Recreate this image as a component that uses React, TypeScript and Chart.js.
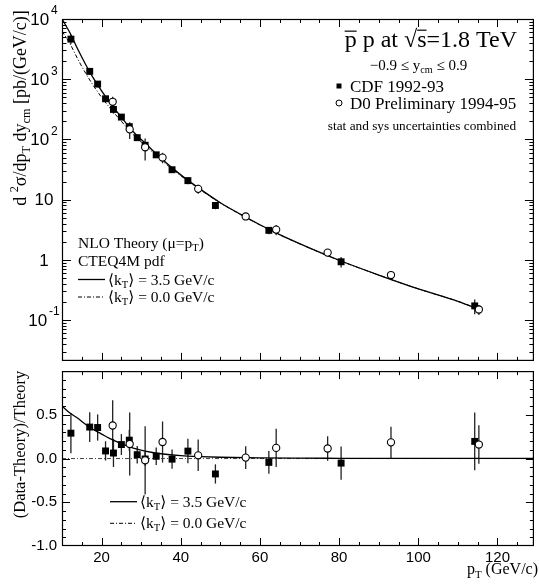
import React, { useEffect, useRef } from 'react';
import { Chart, registerables } from 'chart.js';

Chart.register(...registerables);

// ---------------- data ----------------
const cdfPt = [12.25, 17, 19, 21, 23, 25, 27, 29, 31, 33.8, 37.8, 41.8, 48.75, 62.25, 80.5, 114.25];
const cdfXsec = [4630, 1350, 830, 473, 315, 235, 163, 107, 80, 55.5, 31.4, 20.7, 8.0, 3.09, 0.93, 0.172];
const cdfRatio = [0.29, 0.36, 0.355, 0.087, 0.063, 0.16, 0.21, 0.044, -0.005, 0.026, -0.007, 0.085, -0.176, -0.044, -0.052, 0.196];
const cdfRatioErr = [0.23, 0.17, 0.15, 0.11, 0.16, 0.12, 0.12, 0.1, 0.08, 0.1, 0.11, 0.14, 0.11, 0.13, 0.19, 0.33];

const d0Pt = [22.8, 27.1, 31.0, 35.4, 44.4, 56.4, 64.1, 77.1, 93.1, 115.3];
const d0Xsec = [422, 147, 74, 50, 15.1, 5.26, 3.18, 1.32, 0.56, 0.15];
const d0Ratio = [0.378, 0.167, -0.02, 0.189, 0.037, 0.011, 0.122, 0.115, 0.185, 0.16];
const d0RatioErr = [0.29, 0.36, 0.39, 0.235, 0.18, 0.13, 0.22, 0.14, 0.18, 0.22];

const theoryPt = [10, 12, 14, 16, 18, 20, 22, 25, 28, 31, 35, 40, 45, 50, 55, 60, 65, 70, 80, 90, 100, 110, 116];
const theoryKt35 = [10000, 5900, 3140, 1740, 1020, 640, 418, 234, 134, 87, 48.5, 25.8, 14.8, 8.9, 5.76, 3.83, 2.62, 1.86, 0.985, 0.56, 0.33, 0.205, 0.145];
const theoryKt0 = [6300, 3900, 2150, 1250, 770, 500, 340, 200, 120, 80, 46, 25, 14.5, 8.8, 5.7, 3.8, 2.6, 1.85, 0.98, 0.56, 0.33, 0.205, 0.145];

const ratioPt = [10, 12, 14, 16, 18, 20, 22, 25, 28, 31, 35, 40, 45, 50, 60, 70, 80, 100, 130];
const ratioKt35 = [0.6, 0.52, 0.46, 0.39, 0.33, 0.28, 0.23, 0.17, 0.12, 0.085, 0.055, 0.033, 0.022, 0.015, 0.007, 0.004, 0.003, 0.002, 0.001];
const ratioKt0Pt = [10, 130];
const ratioKt0 = [0, 0];

const upperExps = [4, 3, 2, 1, 0, -1];
const lowerYTicks = [-1, -0.5, 0, 0.5];
const xTickLabels = [20, 40, 60, 80, 100, 120];

// ---------------- helpers ----------------
const SERIF = '"Liberation Serif", "Times New Roman", "DejaVu Serif", serif';
const SANS = '"Liberation Sans", Arial, "DejaVu Sans", sans-serif';

type Seg = { t: string; sub?: boolean; sup?: boolean; over?: number };

function drawRich(
  ctx: CanvasRenderingContext2D,
  segs: Seg[],
  x: number,
  y: number,
  size: number,
  align: 'left' | 'center' | 'right' = 'left',
  family: string = SERIF
) {
  const parts = segs.map((s) => {
    const fs = s.sub || s.sup ? size * 0.68 : size;
    ctx.font = `${fs}px ${family}`;
    return { s, fs, w: ctx.measureText(s.t).width };
  });
  const total = parts.reduce((a, p) => a + p.w, 0);
  let cx = align === 'left' ? x : align === 'right' ? x - total : x - total / 2;
  ctx.textAlign = 'left';
  ctx.textBaseline = 'alphabetic';
  for (const p of parts) {
    ctx.font = `${p.fs}px ${family}`;
    const dy = p.s.sub ? size * 0.22 : p.s.sup ? -size * 0.42 : 0;
    ctx.fillText(p.s.t, cx, y + dy);
    if (p.s.over) {
      ctx.beginPath();
      ctx.lineWidth = Math.max(1, size * 0.05);
      ctx.moveTo(cx, y - size * p.s.over);
      ctx.lineTo(cx + p.w, y - size * p.s.over);
      ctx.stroke();
    }
    cx += p.w;
  }
}

function line(ctx: CanvasRenderingContext2D, x1: number, y1: number, x2: number, y2: number) {
  ctx.beginPath();
  ctx.moveTo(x1, y1);
  ctx.lineTo(x2, y2);
  ctx.stroke();
}

function drawErrors(chart: any) {
  const ctx = chart.ctx as CanvasRenderingContext2D;
  const a = chart.chartArea;
  const ys = chart.scales.y;
  ctx.save();
  ctx.beginPath();
  ctx.rect(a.left, a.top, a.right - a.left, a.bottom - a.top);
  ctx.clip();
  ctx.strokeStyle = '#222';
  ctx.lineWidth = 1.3;
  chart.data.datasets.forEach((ds: any, i: number) => {
    if (!ds.errs) return;
    const meta = chart.getDatasetMeta(i);
    meta.data.forEach((el: any, j: number) => {
      const v = ds.data[j].y;
      const e = ds.errs[j];
      const lo = ys.type === 'logarithmic' ? Math.max(v - e, 1e-6) : v - e;
      line(ctx, el.x, ys.getPixelForValue(v + e), el.x, ys.getPixelForValue(lo));
    });
  });
  ctx.restore();
}

function drawFrameX(ctx: CanvasRenderingContext2D, a: any, xs: any) {
  ctx.lineWidth = 1;
  for (let v = 10; v <= 130; v += 5) {
    const px = Math.round(xs.getPixelForValue(v)) + 0.5;
    if (px <= a.left + 1 || px >= a.right - 1) continue;
    const len = v % 20 === 0 ? 8 : 4;
    line(ctx, px, a.top, px, a.top + len);
    line(ctx, px, a.bottom, px, a.bottom - len);
  }
}

const upperDeco = {
  id: 'upperDeco',
  beforeDatasetsDraw(chart: any) {
    drawErrors(chart);
  },
  afterDraw(chart: any) {
    const ctx = chart.ctx as CanvasRenderingContext2D;
    const a = chart.chartArea;
    const xs = chart.scales.x;
    const ys = chart.scales.y;
    ctx.save();
    ctx.strokeStyle = '#000';
    ctx.fillStyle = '#000';
    ctx.lineWidth = 1.2;
    ctx.strokeRect(a.left + 0.5, a.top + 0.5, a.right - a.left - 1, a.bottom - a.top - 1);
    drawFrameX(ctx, a, xs);
    // log ticks
    for (let e = -2; e <= 3; e++) {
      for (let m = 1; m <= 9; m++) {
        const v = m * Math.pow(10, e);
        if (v < ys.min || v > ys.max) continue;
        const py = Math.round(ys.getPixelForValue(v)) + 0.5;
        const len = m === 1 ? 9 : 4.5;
        line(ctx, a.left, py, a.left + len, py);
        line(ctx, a.right, py, a.right - len, py);
      }
    }
    // y tick labels
    ctx.textBaseline = 'middle';
    for (const e of upperExps) {
      const py = ys.getPixelForValue(Math.pow(10, e));
      const base = e === 0 ? '1' : '10';
      const ex = e === 0 || e === 1 ? '' : String(e);
      ctx.font = `17px ${SANS}`;
      const wb = ctx.measureText(base).width;
      ctx.font = `12px ${SANS}`;
      const we = ex ? ctx.measureText(ex).width + 2 : 0;
      const x0 = 44 - (wb + we) / 2;
      ctx.textAlign = 'left';
      ctx.font = `17px ${SANS}`;
      ctx.fillText(base, x0, py + 1);
      if (ex) {
        ctx.font = `12px ${SANS}`;
        ctx.fillText(ex, x0 + wb + 2, py - 8);
      }
    }
    // y axis title
    ctx.save();
    ctx.translate(26, 108);
    ctx.rotate(-Math.PI / 2);
    drawRich(
      ctx,
      [
        { t: 'd ' },
        { t: '2', sup: true },
        { t: 'σ/dp' },
        { t: 'T', sub: true },
        { t: ' dy' },
        { t: 'cm', sub: true },
        { t: ' [pb/(GeV/c)]' },
      ],
      0,
      0,
      18,
      'center'
    );
    ctx.restore();
    // title
    drawRich(
      ctx,
      [{ t: 'p', over: 0.66 }, { t: ' p at ' }, { t: '√' }, { t: 's', over: 0.7 }, { t: '=1.8 TeV' }],
      517,
      47,
      24,
      'right'
    );
    drawRich(ctx, [{ t: '−0.9 ≤ y' }, { t: 'cm', sub: true }, { t: ' ≤ 0.9' }], 418.5, 70, 15, 'center');
    // legend markers
    ctx.fillRect(336.5, 83.5, 5, 5);
    drawRich(ctx, [{ t: 'CDF 1992-93' }], 350, 91.5, 17);
    ctx.beginPath();
    ctx.lineWidth = 1;
    ctx.arc(339, 103, 3, 0, Math.PI * 2);
    ctx.stroke();
    drawRich(ctx, [{ t: 'D0 Preliminary 1994-95' }], 350, 108.5, 17);
    drawRich(ctx, [{ t: 'stat and sys uncertainties combined' }], 422, 130, 13.3, 'center');
    // left legend
    drawRich(ctx, [{ t: 'NLO Theory (μ=p' }, { t: 'T', sub: true }, { t: ')' }], 78, 247.5, 15.5);
    drawRich(ctx, [{ t: 'CTEQ4M pdf' }], 78, 265.5, 15.5);
    ctx.lineWidth = 1.3;
    line(ctx, 78, 279.5, 105, 279.5);
    drawRich(ctx, [{ t: '⟨k' }, { t: 'T', sub: true }, { t: '⟩ = 3.5 GeV/c' }], 108, 284.5, 15.5);
    ctx.lineWidth = 1;
    ctx.setLineDash([4, 2, 1, 2]);
    line(ctx, 78, 297, 105, 297);
    ctx.setLineDash([]);
    drawRich(ctx, [{ t: '⟨k' }, { t: 'T', sub: true }, { t: '⟩ = 0.0 GeV/c' }], 108, 302, 15.5);
    ctx.restore();
  },
};

const LOWER_TOP = 366;

const lowerDeco = {
  id: 'lowerDeco',
  beforeDatasetsDraw(chart: any) {
    drawErrors(chart);
  },
  afterDraw(chart: any) {
    const ctx = chart.ctx as CanvasRenderingContext2D;
    const a = chart.chartArea;
    const xs = chart.scales.x;
    const ys = chart.scales.y;
    ctx.save();
    ctx.strokeStyle = '#000';
    ctx.fillStyle = '#000';
    ctx.lineWidth = 1.2;
    ctx.strokeRect(a.left + 0.5, a.top + 0.5, a.right - a.left - 1, a.bottom - a.top - 1);
    drawFrameX(ctx, a, xs);
    for (let i = -10; i <= 10; i++) {
      const py = Math.round(ys.getPixelForValue(i / 10)) + 0.5;
      if (py <= a.top + 1 || py >= a.bottom - 1) continue;
      const len = i % 5 === 0 ? 8 : 4;
      line(ctx, a.left, py, a.left + len, py);
      line(ctx, a.right, py, a.right - len, py);
    }
    // tick labels
    ctx.font = `15px ${SANS}`;
    ctx.textBaseline = 'middle';
    ctx.textAlign = 'right';
    for (const v of lowerYTicks) {
      ctx.fillText(v.toFixed(1), 57, ys.getPixelForValue(v));
    }
    ctx.textAlign = 'center';
    for (const v of xTickLabels) {
      ctx.fillText(String(v), xs.getPixelForValue(v), 558 - LOWER_TOP);
    }
    // axis titles
    drawRich(ctx, [{ t: 'p' }, { t: 'T', sub: true }, { t: ' (GeV/c)' }], 538, 574 - LOWER_TOP, 16, 'right');
    ctx.save();
    ctx.translate(25, 444.5 - LOWER_TOP);
    ctx.rotate(-Math.PI / 2);
    drawRich(ctx, [{ t: '(Data-Theory)/Theory' }], 0, 0, 16.5, 'center');
    ctx.restore();
    // legend
    ctx.lineWidth = 1.3;
    line(ctx, 110, 501.7 - LOWER_TOP, 137, 501.7 - LOWER_TOP);
    drawRich(ctx, [{ t: '⟨k' }, { t: 'T', sub: true }, { t: '⟩ = 3.5 GeV/c' }], 140, 507 - LOWER_TOP, 15.5);
    ctx.lineWidth = 1;
    ctx.setLineDash([4, 2, 1, 2]);
    line(ctx, 110, 523.3 - LOWER_TOP, 137, 523.3 - LOWER_TOP);
    ctx.setLineDash([]);
    drawRich(ctx, [{ t: '⟨k' }, { t: 'T', sub: true }, { t: '⟩ = 0.0 GeV/c' }], 140, 528 - LOWER_TOP, 15.5);
    ctx.restore();
  },
};

function xy(xsArr: number[], ysArr: number[]) {
  return xsArr.map((x, i) => ({ x, y: ysArr[i] }));
}

function baseOptions(yType: string, ymin: number, ymax: number, padding: any) {
  return {
    responsive: false,
    animation: false as const,
    events: [] as any[],
    layout: { padding },
    plugins: { legend: { display: false }, tooltip: { enabled: false } },
    scales: {
      x: { type: 'linear', min: 10, max: 129.2, display: false },
      y: { type: yType, min: ymin, max: ymax, display: false },
    },
  } as any;
}

export default function App() {
  const topRef = useRef<HTMLCanvasElement>(null);
  const botRef = useRef<HTMLCanvasElement>(null);

  useEffect(() => {
    document.body.style.margin = '0';
    const top = new Chart(topRef.current as HTMLCanvasElement, {
      type: 'line',
      data: {
        datasets: [
          {
            data: xy(d0Pt, d0Xsec),
            showLine: false,
            pointStyle: 'circle',
            pointRadius: 3.6,
            backgroundColor: '#fff',
            borderColor: '#000',
            borderWidth: 1.1,
            order: 0,
            errs: d0Xsec.map((v, i) => (v * d0RatioErr[i]) / (1 + d0Ratio[i])),
          } as any,
          {
            data: xy(cdfPt, cdfXsec),
            showLine: false,
            pointStyle: 'rect',
            pointRadius: 4.9,
            backgroundColor: '#000',
            borderColor: '#000',
            borderWidth: 0,
            order: 1,
            errs: cdfXsec.map((v, i) => (v * cdfRatioErr[i]) / (1 + cdfRatio[i])),
          } as any,
          {
            data: xy(theoryPt, theoryKt35),
            borderColor: '#000',
            borderWidth: 1.3,
            pointRadius: 0,
            cubicInterpolationMode: 'monotone',
            fill: false,
            order: 2,
          },
          {
            data: xy(theoryPt, theoryKt0),
            borderColor: '#000',
            borderWidth: 1,
            borderDash: [4, 2, 1, 2],
            pointRadius: 0,
            cubicInterpolationMode: 'monotone',
            fill: false,
            order: 3,
          },
        ],
      },
      options: baseOptions('logarithmic', 0.021, 10000, { left: 62, top: 19, right: 1, bottom: 3 }),
      plugins: [upperDeco],
    });

    const bot = new Chart(botRef.current as HTMLCanvasElement, {
      type: 'line',
      data: {
        datasets: [
          {
            data: xy(d0Pt, d0Ratio),
            showLine: false,
            pointStyle: 'circle',
            pointRadius: 3.6,
            backgroundColor: '#fff',
            borderColor: '#000',
            borderWidth: 1.1,
            order: 0,
            errs: d0RatioErr,
          } as any,
          {
            data: xy(cdfPt, cdfRatio),
            showLine: false,
            pointStyle: 'rect',
            pointRadius: 4.9,
            backgroundColor: '#000',
            borderColor: '#000',
            borderWidth: 0,
            order: 1,
            errs: cdfRatioErr,
          } as any,
          {
            data: xy(ratioPt, ratioKt35),
            borderColor: '#000',
            borderWidth: 1.3,
            pointRadius: 0,
            cubicInterpolationMode: 'monotone',
            fill: false,
            order: 2,
          },
          {
            data: xy(ratioKt0Pt, ratioKt0),
            borderColor: '#444',
            borderWidth: 1,
            borderDash: [4, 2, 1, 2],
            pointRadius: 0,
            fill: false,
            order: 3,
          },
        ],
      },
      options: baseOptions('linear', -1, 1, { left: 62, top: 1, right: 1, bottom: 40 }),
      plugins: [lowerDeco],
    });

    return () => {
      top.destroy();
      bot.destroy();
    };
  }, []);

  return (
    <div style={{ position: 'relative', width: 539, height: 586, background: '#fff', overflow: 'hidden' }}>
      <canvas ref={topRef} width={539} height={366} style={{ position: 'absolute', left: 0, top: 0, display: 'block' }} />
      <canvas
        ref={botRef}
        width={539}
        height={220}
        style={{ position: 'absolute', left: 0, top: LOWER_TOP, display: 'block' }}
      />
    </div>
  );
}
